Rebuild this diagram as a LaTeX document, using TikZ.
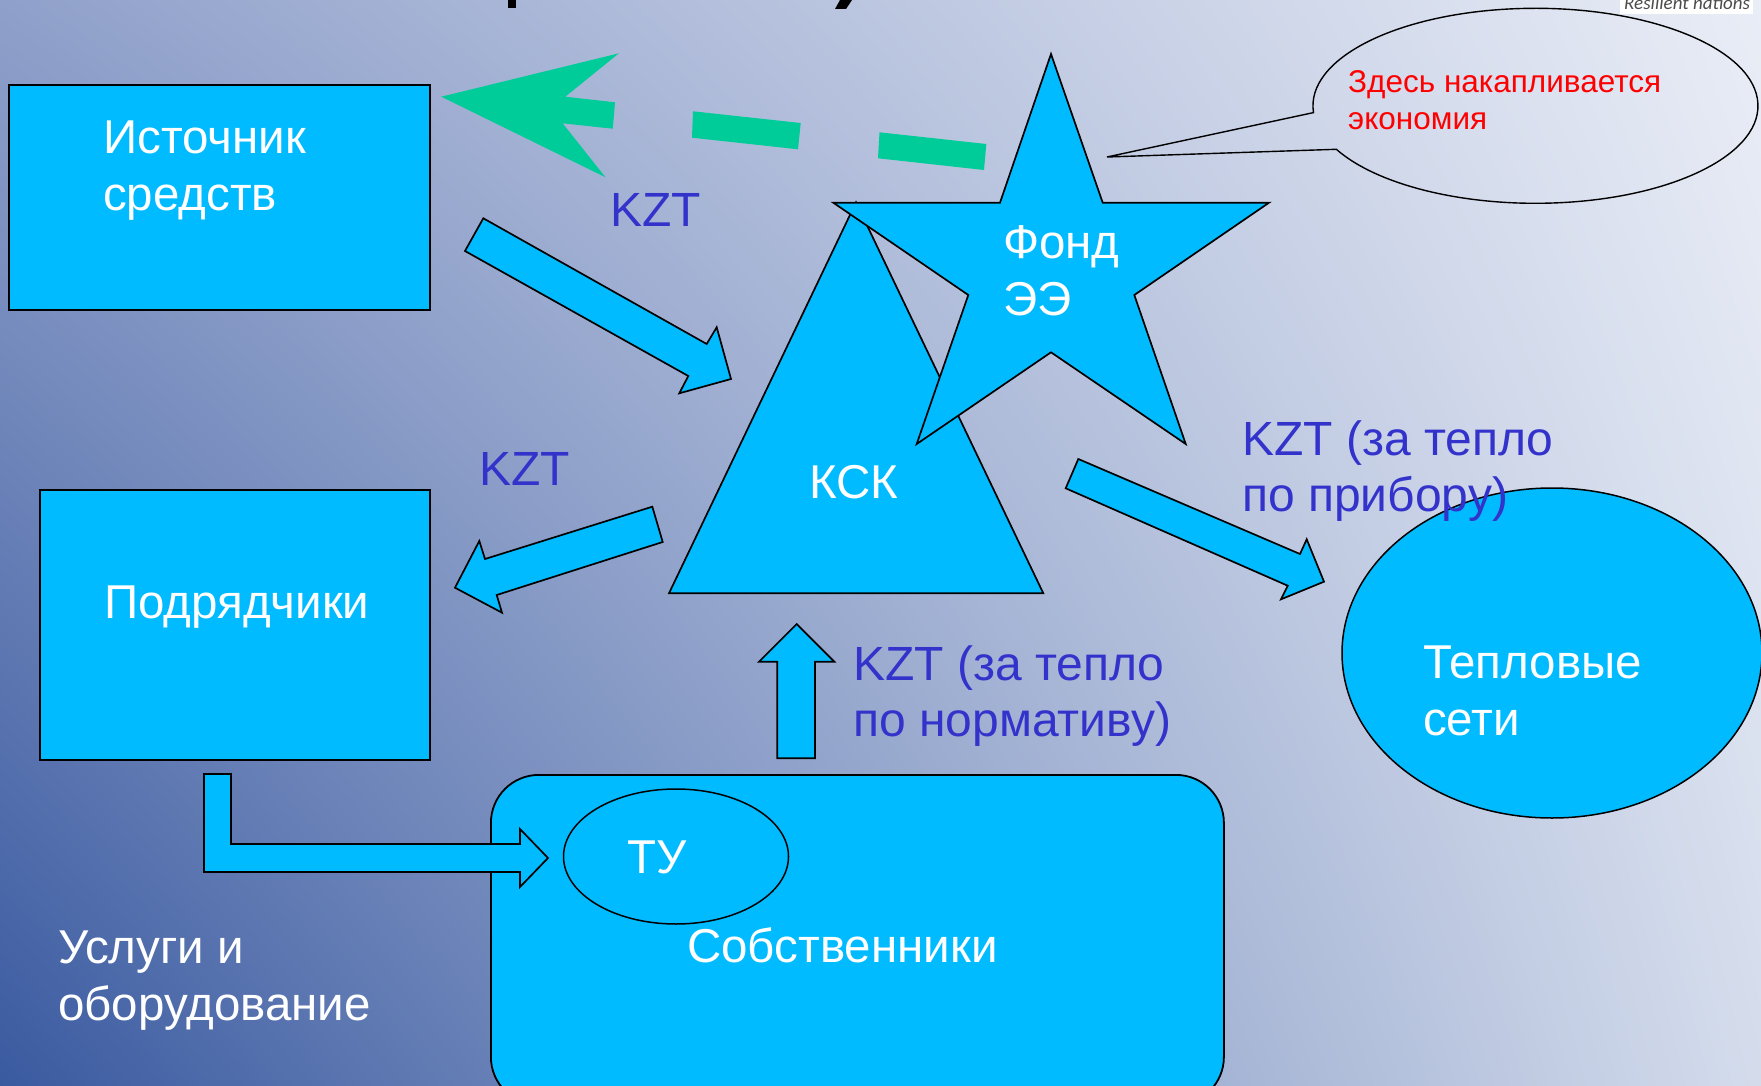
\documentclass[tikz,border=0pt]{standalone}
\usepackage{fontspec}
\setmainfont{Liberation Sans}
\newfontfamily\carl{Carlito}
\usetikzlibrary{shapes.geometric,shadings}
\definecolor{bgUL}{RGB}{143,160,202}
\definecolor{bgLL}{RGB}{58,90,160}
\definecolor{bgUR}{RGB}{233,237,246}
\definecolor{bgLR}{RGB}{212,220,236}
\definecolor{sky}{RGB}{0,187,255}
\definecolor{mint}{RGB}{0,204,153}
\definecolor{kzt}{RGB}{51,51,204}
\begin{document}
\begin{tikzpicture}[x=1pt,y=-1pt,
  shapebox/.style={draw=black, line width=1.8pt, fill=sky, inner sep=0pt},
  blockarrow/.style={draw=black, line width=1.7pt, fill=sky, line join=miter},
  greenpart/.style={fill=mint},
  whitelbl/.style={text=white, font=\fontsize{47.5}{57}\selectfont, inner sep=0pt, anchor=base west, align=left},
  kztlbl/.style={text=kzt, font=\fontsize{48}{56}\selectfont, inner sep=0pt, anchor=base west, align=left},
  redlbl/.style={text=red, font=\fontsize{31.5}{37}\selectfont, inner sep=0pt, anchor=base west, align=left}]
\useasboundingbox (0,0) rectangle (1761,1086);
\shade[upper left=bgUL, lower left=bgLL, upper right=bgUR, lower right=bgLR] (0,0) rectangle (1761,1086);
% cut-off title fragments
\fill[black] (508,0) rectangle (516,8);
\fill[black] (840,0) -- (852,0) -- (846,9) -- (835,9) -- cycle;
% logo text
\fill[white] (1620,0) rectangle (1753,14);
\node[anchor=base west, inner sep=0pt, font=\carl\itshape\fontsize{19}{19}\selectfont, text=black!70] (logo) at (1624,9.5) {Resilient nations};
% boxes
\node[shapebox, anchor=north west, minimum width=421pt, minimum height=225pt] (src) at (8,84) {};
\node[shapebox, anchor=north west, minimum width=390pt, minimum height=270pt] (contr) at (39,489) {};
% green dashed arrow
\fill[greenpart] (441.3,96.7) -- (618.9,53.3) -- (565.3,96.7) -- (615,102.3) -- (612.8,128.7) -- (562.6,123.3) -- (605.5,177.3) -- cycle;
\fill[greenpart] (693,111.3) -- (800.7,123) -- (798,149.3) -- (692,137.7) -- cycle;
\fill[greenpart] (879.5,132.3) -- (986.3,144) -- (984,170) -- (878,158.3) -- cycle;
% triangle KSK
\draw[blockarrow] (856,202.4) -- (1043.3,593.3) -- (669,593.3) -- cycle;
% star
\draw[blockarrow] (1051,54) -- (1102.7,202.7) -- (1269,202.7) -- (1134.3,295) -- (1185.7,444) -- (1051,352.3) -- (916.7,444) -- (968.3,295) -- (833.3,202.7) -- (1000,202.7) -- cycle;
% callout
\draw[line width=1.4pt] (1313.5,112.6) arc[start angle=176, end angle=513.5, x radius=222.5, y radius=97.5] -- (1107,157) -- cycle;
% block arrows
\draw[blockarrow] (483.3,218.3) -- (706.7,344) -- (716.7,327.3) -- (731,379) -- (679.3,393.3) -- (688.3,376) -- (465,251) -- cycle;
\draw[blockarrow] (652.3,506.7) -- (485,559) -- (479.3,541) -- (455,587.7) -- (502,612.7) -- (496.7,595) -- (662.7,542) -- cycle;
\draw[blockarrow] (1078.3,459) -- (1300,554) -- (1306.7,539.3) -- (1324,581.7) -- (1281,599.3) -- (1287.7,585.7) -- (1065.7,488.3) -- cycle;
% owners
\node[shapebox, rounded corners=48pt, anchor=north west, minimum width=733pt, minimum height=330pt] (owners) at (490,774) {};
\node[shapebox, ellipse, line width=1.5pt, minimum width=225pt, minimum height=135pt] (tu) at (676,856.5) {};
\draw[blockarrow] (796.7,624) -- (834.3,661.7) -- (815,661.7) -- (815,758.3) -- (777.3,758.3) -- (777.3,661.7) -- (759,661.7) -- cycle;
\draw[blockarrow] (204,774) -- (231,774) -- (231,844) -- (520,844) -- (520,829) -- (548,858) -- (520,887) -- (520,872) -- (204,872) -- cycle;
% heat networks
\node[shapebox, ellipse, line width=1.5pt, minimum width=420pt, minimum height=330pt] (heat) at (1552,653) {};
% texts (multi-line nodes anchored at the baseline of their last line)
\node[whitelbl] (tsrc) at (103,211) {Источник\\средств};
\node[whitelbl] (tcontr) at (104,618) {Подрядчики};
\node[whitelbl] (tksk) at (809,498) {КСК};
\node[whitelbl] (tfund) at (1003,315) {Фонд\\ЭЭ};
\node[whitelbl] (theat) at (1423,735) {Тепловые\\сети};
\node[whitelbl] (ttu) at (627,873) {ТУ};
\node[whitelbl] (towners) at (687,962) {Собственники};
\node[whitelbl] (tserv) at (58,1020) {Услуги и\\оборудование};
\node[kztlbl] (k1) at (610,226) {KZT};
\node[kztlbl] (k2) at (479,485) {KZT};
\node[kztlbl] (k3) at (1242,511) {KZT (за тепло\\по прибору)};
\node[kztlbl] (k4) at (853,736.5) {KZT (за тепло\\по нормативу)};
\node[redlbl] (tsave) at (1348,130) {Здесь накапливается\\экономия};
\end{tikzpicture}
\end{document}
